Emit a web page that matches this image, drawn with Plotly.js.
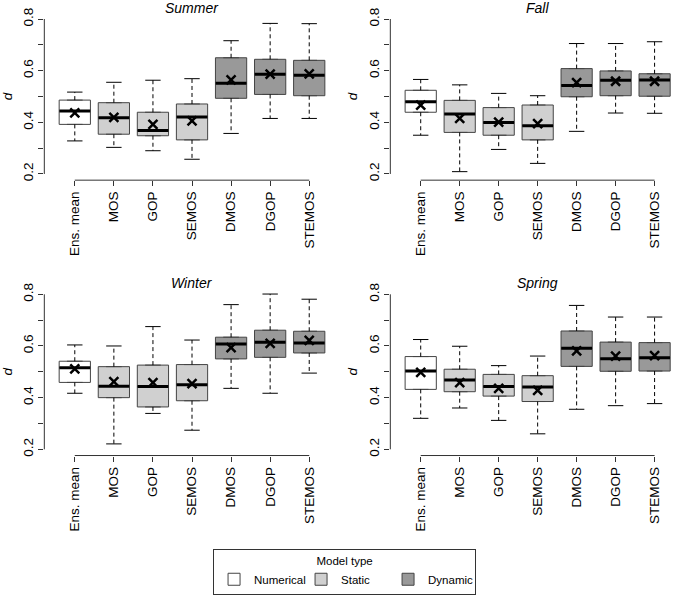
<!DOCTYPE html>
<html>
<head>
<meta charset="utf-8">
<script src="https://cdn.plot.ly/plotly-3.0.1.min.js"></script>
<style>html,body{margin:0;padding:0;background:#fff;}#chart{width:685px;height:596px;}</style>
</head>
<body>
<div id="chart"></div>
<script>
// ---------- data ----------
const categories = ['Ens. mean','MOS','GOP','SEMOS','DMOS','DGOP','STEMOS'];
const modelTypes = ['Numerical','Static','Static','Static','Dynamic','Dynamic','Dynamic'];
const typeNames = ['Numerical','Static','Dynamic'];
const seasons = ['Summer','Fall','Winter','Spring'];
const yTickVals = [0.2,0.3,0.4,0.5,0.6,0.7,0.8];
const yTickText = ['0.2','','0.4','','0.6','','0.8'];

const summerLower  = [0.328,0.303,0.290,0.257,0.357,0.415,0.415];
const summerQ1     = [0.392,0.354,0.348,0.332,0.493,0.508,0.503];
const summerMedian = [0.444,0.418,0.368,0.421,0.551,0.586,0.582];
const summerQ3     = [0.486,0.476,0.439,0.471,0.650,0.644,0.640];
const summerUpper  = [0.517,0.555,0.563,0.569,0.716,0.783,0.782];
const summerMean   = [0.437,0.419,0.392,0.406,0.564,0.587,0.588];

const fallLower  = [0.350,0.209,0.295,0.241,0.365,0.436,0.435];
const fallQ1     = [0.439,0.361,0.350,0.332,0.499,0.503,0.501];
const fallMedian = [0.480,0.432,0.399,0.387,0.543,0.563,0.564];
const fallQ3     = [0.524,0.485,0.457,0.467,0.608,0.599,0.588];
const fallUpper  = [0.566,0.545,0.512,0.503,0.705,0.705,0.712];
const fallMean   = [0.467,0.415,0.401,0.395,0.554,0.559,0.559];

const winterLower  = [0.417,0.221,0.339,0.274,0.436,0.417,0.495];
const winterQ1     = [0.459,0.400,0.364,0.388,0.550,0.556,0.573];
const winterMedian = [0.516,0.444,0.443,0.450,0.608,0.614,0.612];
const winterQ3     = [0.541,0.520,0.526,0.528,0.634,0.661,0.657];
const winterUpper  = [0.604,0.600,0.675,0.623,0.760,0.801,0.781];
const winterMean   = [0.511,0.462,0.458,0.454,0.594,0.610,0.622];

const springLower  = [0.320,0.360,0.312,0.260,0.355,0.369,0.377];
const springQ1     = [0.432,0.423,0.406,0.385,0.521,0.502,0.503];
const springMedian = [0.503,0.468,0.443,0.441,0.591,0.551,0.554];
const springQ3     = [0.559,0.510,0.490,0.485,0.658,0.615,0.613];
const springUpper  = [0.625,0.599,0.524,0.561,0.757,0.712,0.712];
const springMean   = [0.498,0.458,0.436,0.428,0.581,0.561,0.563];

const seasonData = {
  Summer: {lo: summerLower, q1: summerQ1, med: summerMedian, q3: summerQ3, hi: summerUpper, mean: summerMean},
  Fall:   {lo: fallLower,   q1: fallQ1,   med: fallMedian,   q3: fallQ3,   hi: fallUpper,   mean: fallMean},
  Winter: {lo: winterLower, q1: winterQ1, med: winterMedian, q3: winterQ3, hi: winterUpper, mean: winterMean},
  Spring: {lo: springLower, q1: springQ1, med: springMedian, q3: springQ3, hi: springUpper, mean: springMean}
};

// ---------- styles ----------
const FONT = 'Liberation Sans, Arial, Helvetica, sans-serif';
const fills = {Numerical: '#ffffff', Static: '#d0d0d0', Dynamic: '#999999'};
const axisColor = '#333333';

const xDomains = [[0.0647, 0.4959],[0.5698, 1.0],[0.0647, 0.4959],[0.5698, 1.0]];
const yDomains = [[0.6977, 0.9785],[0.6977, 0.9785],[0.2357, 0.5166],[0.2357, 0.5166]];

const traces = [];
const layout = {
  width: 685, height: 596,
  margin: {l:0, r:0, t:0, b:0},
  paper_bgcolor: '#fff', plot_bgcolor: '#fff',
  font: {family: FONT, color: '#000'},
  boxmode: 'overlay',
  showlegend: true,
  legend: {
    orientation: 'h',
    x: 0.503, xanchor: 'center',
    y: 0.002, yanchor: 'bottom',
    bordercolor: axisColor, borderwidth: 1,
    font: {size: 11.5, family: FONT},
    title: {text: 'Model type', side: 'top center', font: {size: 11.5, family: FONT}},
    traceorder: 'normal',
    itemwidth: 30,
    entrywidth: 42
  },
  shapes: [],
  annotations: []
};

seasons.forEach((s, k) => {
  const d = seasonData[s];
  const xa = k === 0 ? 'x' : 'x' + (k+1);
  const ya = k === 0 ? 'y' : 'y' + (k+1);
  const xKey = k === 0 ? 'xaxis' : 'xaxis' + (k+1);
  const yKey = k === 0 ? 'yaxis' : 'yaxis' + (k+1);

  // boxes by model type
  typeNames.forEach(t => {
    const idx = categories.map((c,i) => i).filter(i => modelTypes[i] === t);
    traces.push({
      type: 'box', xaxis: xa, yaxis: ya,
      name: t, legendgroup: t, showlegend: k === 0,
      x: idx.map(i => categories[i]),
      q1: idx.map(i => d.q1[i]),
      median: idx.map(i => d.med[i]),
      q3: idx.map(i => d.q3[i]),
      lowerfence: idx.map(i => d.q1[i]),
      upperfence: idx.map(i => d.q3[i]),
      width: 0.8,
      fillcolor: fills[t],
      line: {color: '#444444', width: 1},
      boxpoints: false,
      hoverinfo: 'skip'
    });
  });

  // dashed whiskers
  const wx = [], wy = [];
  categories.forEach((c,i) => {
    wx.push(c, c, null, c, c, null);
    wy.push(d.q3[i], d.hi[i], null, d.q1[i], d.lo[i], null);
  });
  traces.push({
    type: 'scatter', mode: 'lines', xaxis: xa, yaxis: ya, showlegend: false,
    x: wx, y: wy, line: {color: '#000', width: 1, dash: '4px,3px'}, hoverinfo: 'skip'
  });
  // whisker caps
  traces.push({
    type: 'scatter', mode: 'markers', xaxis: xa, yaxis: ya, showlegend: false,
    x: categories.concat(categories), y: d.hi.concat(d.lo),
    marker: {symbol: 'line-ew', size: 11, color: '#000', line: {color: '#000', width: 1}},
    hoverinfo: 'skip'
  });
  // medians
  traces.push({
    type: 'scatter', mode: 'markers', xaxis: xa, yaxis: ya, showlegend: false,
    x: categories, y: d.med,
    marker: {symbol: 'line-ew', size: 22, color: '#000', line: {color: '#000', width: 3}},
    hoverinfo: 'skip'
  });
  // means
  traces.push({
    type: 'scatter', mode: 'markers', xaxis: xa, yaxis: ya, showlegend: false,
    x: categories, y: d.mean,
    marker: {symbol: 'x-thin-open', size: 9, color: '#000', line: {color: '#000', width: 2.5}},
    hoverinfo: 'skip'
  });

  layout[xKey] = {
    domain: xDomains[k], anchor: ya,
    type: 'category', categoryorder: 'array', categoryarray: categories,
    range: [-0.78, 6.78],
    showline: false, showgrid: false, zeroline: false,
    ticks: 'outside', ticklen: 5, tickcolor: axisColor, tickwidth: 1,
    tickangle: -90,
    tickfont: {size: 13.5, family: FONT, color: '#000'},
    fixedrange: true
  };
  layout[yKey] = {
    domain: yDomains[k], anchor: xa,
    range: [0.176, 0.824],
    tickmode: 'array', tickvals: yTickVals, ticktext: yTickText,
    showline: false, showgrid: false, zeroline: false,
    ticks: 'outside', ticklen: 5, tickcolor: axisColor, tickwidth: 1,
    tickangle: -90,
    tickfont: {size: 13.5, family: FONT, color: '#000'},
    title: {text: 'd', font: {size: 13.5, family: FONT, style: 'italic'}, standoff: 6},
    fixedrange: true
  };

  // R-style detached axis lines
  layout.shapes.push({
    type: 'line', xref: xa, yref: ya + ' domain',
    x0: categories[0], x1: categories[categories.length-1], y0: 0, y1: 0,
    line: {color: axisColor, width: 1}
  });
  layout.shapes.push({
    type: 'line', xref: xa + ' domain', yref: ya,
    x0: 0, x1: 0, y0: yTickVals[0], y1: yTickVals[yTickVals.length-1],
    line: {color: axisColor, width: 1}
  });

  layout.annotations.push({
    text: s, showarrow: false,
    xref: xa + ' domain', x: 0.5, xanchor: 'center',
    yref: ya + ' domain', y: 1, yanchor: 'middle', yshift: 5,
    borderpad: 0,
    font: {size: 14, family: FONT, style: 'italic', color: '#000'}
  });
});

Plotly.newPlot('chart', traces, layout, {staticPlot: true, displayModeBar: false});
</script>
</body>
</html>
